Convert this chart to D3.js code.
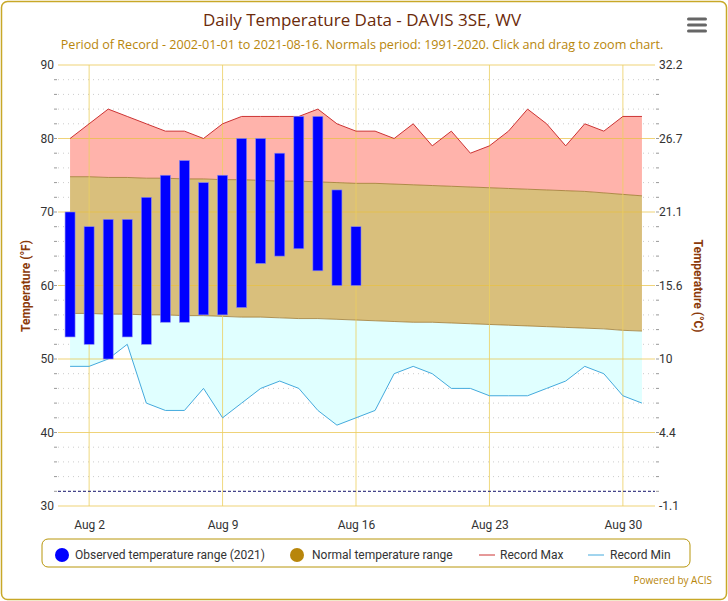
<!DOCTYPE html>
<html><head><meta charset="utf-8">
<script src="https://cdn.jsdelivr.net/npm/d3@7"></script>
<style>body{margin:0;background:#fff;font-family:"Open Sans",Arial,sans-serif}</style>
</head><body><div id="chart"></div>
<script>
const days = d3.range(1, 32);
const obsHigh = [70,68,69,69,72,75,77,74,75,80,80,78,83,83,73,68];
const obsLow  = [53,52,50,53,52,55,55,56,56,57,63,64,65,62,60,60];
const recMax = [80,82,84,83,82,81,81,80,82,83,83,83,83,84,82,81,81,80,82,79,81,78,79,81,84,82,79,82,81,83,83];
const recMin = [49,49,50,52,44,43,43,46,42,44,46,47,46,43,41,42,43,48,49,48,46,46,45,45,45,46,47,49,48,45,44];
const normHigh = [74.8,74.8,74.7,74.7,74.6,74.6,74.5,74.5,74.4,74.4,74.3,74.2,74.2,74.1,74.0,73.9,73.9,73.8,73.7,73.6,73.5,73.4,73.3,73.2,73.1,73.0,72.9,72.8,72.6,72.4,72.2];
const normLow  = [56.2,56.2,56.1,56.1,56.0,56.0,55.9,55.9,55.8,55.7,55.7,55.6,55.5,55.5,55.4,55.3,55.2,55.1,55.0,55.0,54.9,54.8,54.7,54.6,54.5,54.4,54.3,54.2,54.1,53.9,53.8];
const fTicks = [30,40,50,60,70,80,90];
const cLabels = ["-1.1","4.4","10","15.6","21.1","26.7","32.2"];
const xTickDays = [2,9,16,23,30];

const W = 728, H = 601;
const svg = d3.select("#chart").append("svg").attr("width", W).attr("height", H);
svg.append("rect").attr("x",1.5).attr("y",1.5).attr("width",W-3).attr("height",H-3)
  .attr("rx",6).attr("fill","#fff").attr("stroke","#c8a828").attr("stroke-width",1.5);

const x = d3.scaleLinear().domain([0.0, 32.0]).range([51, 661]);
const y = d3.scaleLinear().domain([30, 90]).range([506, 65]);
const L = 58, R = 655;

const g = svg.append("g");
d3.range(32, 90, 2).filter(v => v % 10).forEach(v => {
  g.append("line").attr("x1",L).attr("x2",R).attr("y1",y(v)).attr("y2",y(v))
    .attr("stroke","#ccc").attr("stroke-dasharray","1,4");
});

const area = (a, b) => d3.area().x((d,i) => x(days[i])).y0((d,i) => y(a[i])).y1((d,i) => y(b[i]));
g.append("path").datum(days).attr("d", area(normHigh, recMax)).attr("fill","#ffb3ab");
g.append("path").datum(days).attr("d", area(normLow, normHigh)).attr("fill","#d9bf7c");
g.append("path").datum(days).attr("d", area(recMin, normLow)).attr("fill","#e0ffff");
const line = arr => d3.line().x((d,i) => x(days[i])).y((d,i) => y(arr[i]));
g.append("path").datum(days).attr("d", line(normHigh)).attr("fill","none").attr("stroke","#a07830").attr("stroke-width",0.8);
g.append("path").datum(days).attr("d", line(normLow)).attr("fill","none").attr("stroke","#a07830").attr("stroke-width",0.8);

fTicks.forEach(v => {
  g.append("line").attr("x1",L).attr("x2",R).attr("y1",y(v)).attr("y2",y(v))
    .attr("stroke","#e8c040").attr("stroke-opacity",0.7).attr("stroke-width",1.2);
});
xTickDays.forEach(d => {
  g.append("line").attr("x1",x(d)).attr("x2",x(d)).attr("y1",65).attr("y2",506)
    .attr("stroke","#ecd060").attr("stroke-opacity",0.8);
});

g.append("path").datum(days).attr("d", line(recMax)).attr("fill","none").attr("stroke","#cc3333").attr("stroke-width",1);
g.append("path").datum(days).attr("d", line(recMin)).attr("fill","none").attr("stroke","#44aadd").attr("stroke-width",1);

g.append("line").attr("x1",L).attr("x2",R).attr("y1",y(32)).attr("y2",y(32))
  .attr("stroke","#1a1a70").attr("stroke-dasharray","3,2");

g.selectAll("rect.obs").data(obsHigh).join("rect").attr("class","obs")
  .attr("x",(d,i) => x(days[i]) - 5).attr("width",10)
  .attr("y",d => y(d)).attr("height",(d,i) => y(obsLow[i]) - y(d))
  .attr("fill","#0000ff").attr("stroke","#8888ee").attr("stroke-width",0.6);

const txt = "#333", ff = "Roboto, sans-serif";
const yl = d3.axisLeft(y).tickValues(fTicks).tickSize(0).tickPadding(4);
svg.append("g").attr("transform",`translate(${L},0)`).call(yl)
  .call(a => a.select(".domain").remove())
  .selectAll("text").attr("font-size",12).attr("fill",txt).attr("font-family",ff);
const minorL = d3.range(32, 90, 2);
svg.append("g").selectAll("line").data(minorL).join("line")
  .attr("x1",L-4).attr("x2",L-1).attr("y1",d=>y(d)).attr("y2",d=>y(d)).attr("stroke","#999");
svg.append("g").selectAll("line").data(minorL).join("line")
  .attr("x1",R+1).attr("x2",R+4).attr("y1",d=>y(d)).attr("y2",d=>y(d)).attr("stroke","#999");
const yr = d3.axisRight(y).tickValues(fTicks).tickSize(0).tickPadding(4).tickFormat((d,i) => cLabels[i]);
svg.append("g").attr("transform",`translate(${R},0)`).call(yr)
  .call(a => a.select(".domain").remove())
  .selectAll("text").attr("font-size",12).attr("fill",txt).attr("font-family",ff);
const xa = d3.axisBottom(x).tickValues(xTickDays).tickSize(0).tickPadding(14).tickFormat(d => "Aug " + d);
svg.append("g").attr("transform","translate(0,506)").call(xa)
  .call(a => a.select(".domain").remove())
  .selectAll("text").attr("font-size",12).attr("fill",txt).attr("font-family",ff);

svg.append("text").attr("transform","translate(30,286) rotate(-90)").attr("text-anchor","middle")
  .attr("font-family",ff).attr("font-size",12).attr("font-weight","bold").attr("fill","#8b3a0a").text("Temperature (°F)");
svg.append("text").attr("transform","translate(694,286) rotate(90)").attr("text-anchor","middle")
  .attr("font-family",ff).attr("font-size",12).attr("font-weight","bold").attr("fill","#8b3a0a").text("Temperature (°C)");

svg.append("text").attr("x",362).attr("y",26).attr("text-anchor","middle").attr("font-size",17)
  .attr("fill","#6b2a0a").text("Daily Temperature Data - DAVIS 3SE, WV");
svg.append("text").attr("x",362).attr("y",49).attr("text-anchor","middle").attr("font-size",12.6)
  .attr("fill","#b8860b").text("Period of Record - 2002-01-01 to 2021-08-16. Normals period: 1991-2020. Click and drag to zoom chart.");

[19,25,31].forEach(yy => svg.append("rect").attr("x",687).attr("y",yy-1.5).attr("width",20).attr("height",3).attr("rx",1.5).attr("fill","#666"));

const lg = svg.append("g").attr("font-family",ff);
lg.append("rect").attr("x",42).attr("y",539).attr("width",648).attr("height",28).attr("rx",6)
  .attr("fill","#fff").attr("stroke","#b8960b");
const ly = 556;
lg.append("circle").attr("cx",62).attr("cy",ly-1).attr("r",7).attr("fill","#0000ff");
lg.append("text").attr("x",75).attr("y",ly+3).attr("font-size",12).attr("fill",txt).text("Observed temperature range (2021)");
lg.append("circle").attr("cx",297).attr("cy",ly-1).attr("r",7).attr("fill","#b8860b");
lg.append("text").attr("x",312).attr("y",ly+3).attr("font-size",12).attr("fill",txt).text("Normal temperature range");
lg.append("line").attr("x1",479).attr("x2",495).attr("y1",ly-1).attr("y2",ly-1).attr("stroke","#cc3333");
lg.append("text").attr("x",500).attr("y",ly+3).attr("font-size",12).attr("fill",txt).text("Record Max");
lg.append("line").attr("x1",588).attr("x2",604).attr("y1",ly-1).attr("y2",ly-1).attr("stroke","#44aadd");
lg.append("text").attr("x",610).attr("y",ly+3).attr("font-size",12).attr("fill",txt).text("Record Min");

svg.append("text").attr("x",712).attr("y",584).attr("text-anchor","end").attr("font-size",10)
  .attr("fill","#b8860b").text("Powered by ACIS");
</script></body></html>
